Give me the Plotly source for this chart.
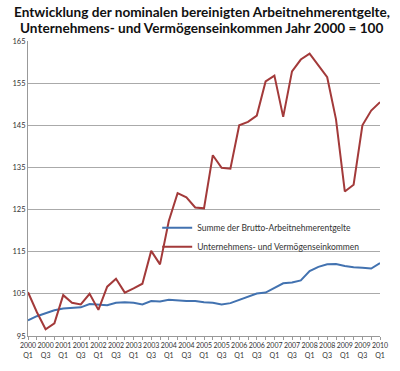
import plotly.graph_objects as go

quarters = []
for y in range(2000, 2011):
    for q in ["Q1", "Q2", "Q3", "Q4"]:
        quarters.append(f"{y} {q}")
quarters = quarters[:41]

arbeitnehmer = [98.7, 99.7, 100.4, 101.1, 101.5, 101.6, 101.8, 102.6, 102.4, 102.3,
                102.9, 103.0, 102.9, 102.5, 103.3, 103.2, 103.6, 103.4, 103.3, 103.3,
                103.0, 102.9, 102.5, 102.8, 103.6, 104.4, 105.1, 105.3, 106.5, 107.5,
                107.7, 108.2, 110.4, 111.4, 112.0, 112.1, 111.6, 111.3, 111.2, 111.0,
                112.3]
unternehmen = [105.4, 100.7, 96.6, 98.0, 104.7, 102.9, 102.5, 105.0, 101.2, 106.7,
               108.6, 105.3, 106.3, 107.4, 115.2, 112.0, 122.3, 128.9, 127.9, 125.5,
               125.3, 137.9, 134.9, 134.7, 145.0, 145.8, 147.3, 155.4, 156.8, 147.0,
               157.8, 160.6, 162.0, 159.2, 156.4, 146.4, 129.3, 130.9, 145.0, 148.5,
               150.5]
series_names = ["Summe der Brutto-Arbeitnehmerentgelte", "Unternehmens- und Vermögenseinkommen"]
series_colors = ["#4272b0", "#a33a3a"]
title_lines = ["Entwicklung der nominalen bereinigten Arbeitnehmerentgelte,",
               "Unternehmens- und Vermögenseinkommen Jahr 2000 = 100"]

x_idx = list(range(len(quarters)))
tick_idx = x_idx[::2]
tick_text = [quarters[i].replace(" ", "<br>") for i in tick_idx]

fig = go.Figure()
for name, vals, col in zip(series_names, [arbeitnehmer, unternehmen], series_colors):
    fig.add_trace(go.Scatter(x=x_idx, y=vals, mode="lines", name=name,
                             line=dict(color=col, width=2)))

title_ann = []
for line, ypix in zip(title_lines, [12, 28]):
    title_ann.append(dict(text="<b>" + line + "</b>", xref="paper", yref="paper",
                          x=(204 - 25) / 363, y=1 + (41 - ypix) / 300,
                          xanchor="center", yanchor="middle", showarrow=False,
                          font=dict(family="Lato", size=13.6, color="#111")))

fig.update_layout(
    width=400, height=371,
    margin=dict(l=25, r=12, t=41, b=30),
    paper_bgcolor="white", plot_bgcolor="white",
    legend=dict(x=0.367, y=0.416, xanchor="left", yanchor="top",
                bgcolor="rgba(0,0,0,0)", font=dict(family="Lato", size=8.5, color="#333"),
                itemwidth=30, tracegroupgap=0),
    showlegend=True,
    annotations=title_ann,
)
fig.update_xaxes(range=[0, 40], tickmode="array", tickvals=tick_idx, ticktext=tick_text,
                 showgrid=False, showline=True, linecolor="#999", linewidth=1,
                 ticks="outside", ticklen=3, tickcolor="#999",
                 minor=dict(dtick=1, tick0=0, ticks="outside", ticklen=3, tickcolor="#999", showgrid=False),
                 tickangle=0, tickfont=dict(family="Lato", size=7, color="#333"),
                 zeroline=False)
fig.update_yaxes(range=[95, 165], dtick=10, tick0=95, showgrid=True, gridcolor="#aaa",
                 gridwidth=1, showline=True, linecolor="#999", linewidth=1,
                 ticks="", tickfont=dict(family="Lato", size=7.5, color="#333"),
                 zeroline=False)

fig.write_html("out.html", config={"displayModeBar": False},
               post_script="document.body.style.margin='0';")
